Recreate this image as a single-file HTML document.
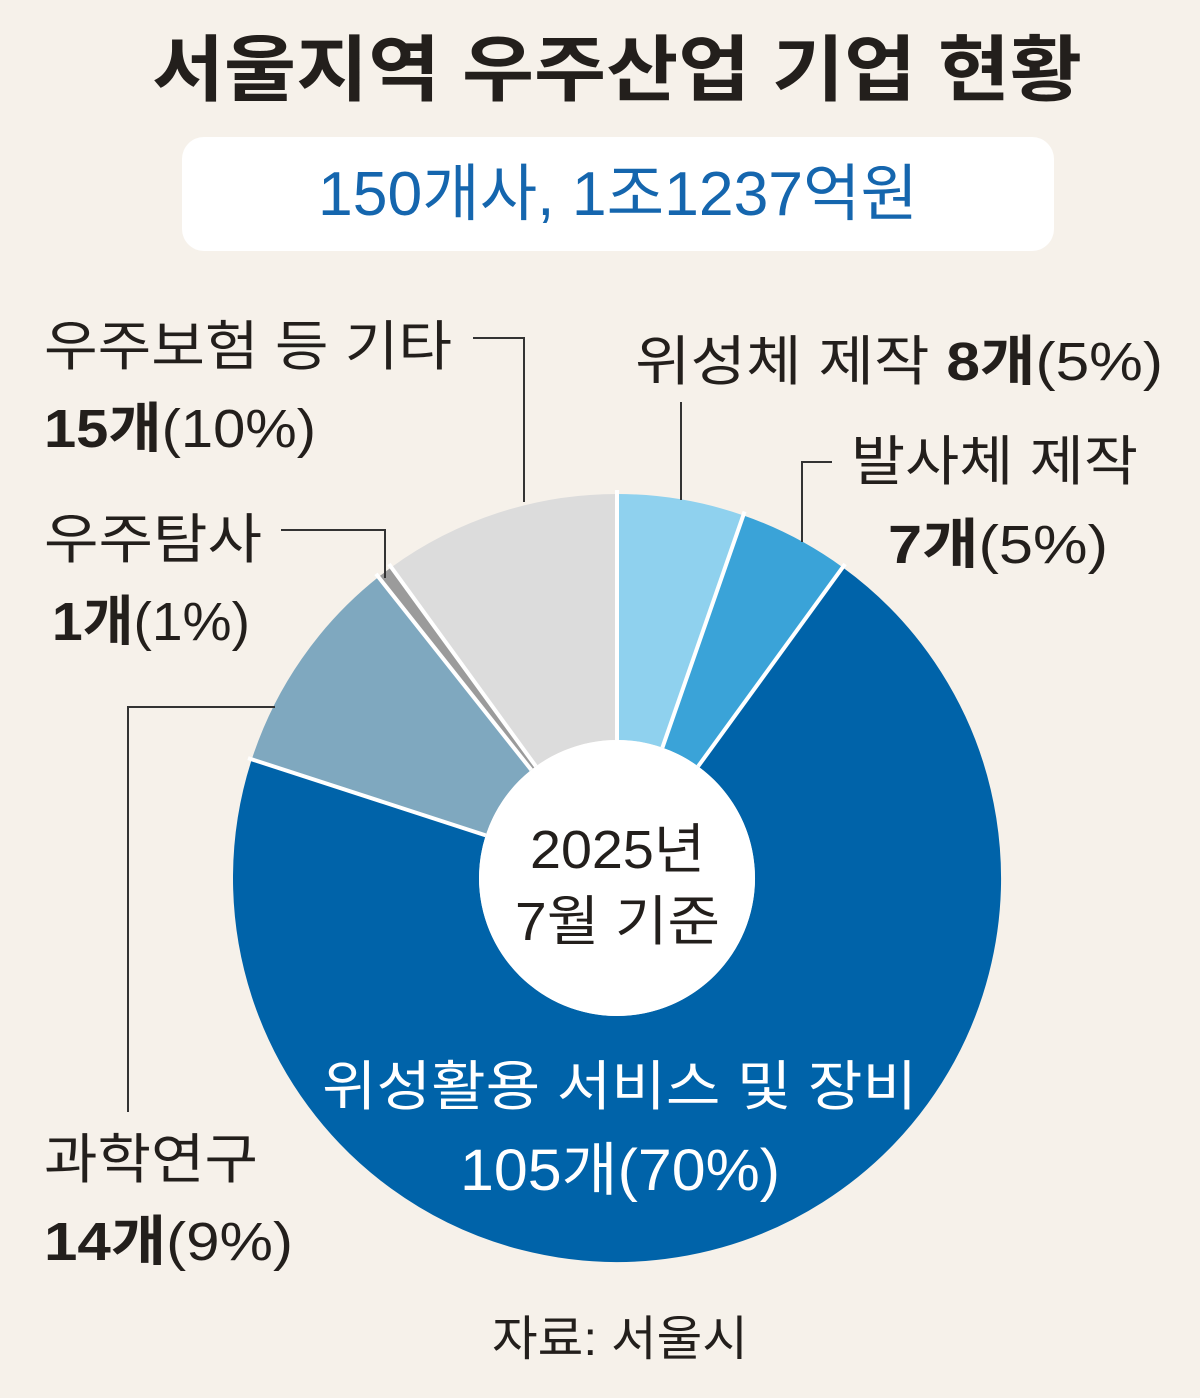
<!DOCTYPE html>
<html><head><meta charset="utf-8"><style>
body{margin:0;width:1200px;height:1393px;background:#f6f1ea;overflow:hidden}
svg text{font-family:"Liberation Sans","Noto Sans CJK KR",sans-serif;fill:#231f1c}
</style></head><body>
<svg width="1200" height="1393" viewBox="0 0 1200 1393">
<rect x="0" y="0" width="1200" height="1393" fill="#f6f1ea"/>
<text x="152" y="95" font-size="72" font-weight="bold" textLength="930" lengthAdjust="spacingAndGlyphs">서울지역 우주산업 기업 현황</text>
<rect x="182" y="137" width="872" height="114" rx="22" fill="#ffffff"/>
<text x="318" y="215" font-size="62" textLength="600" lengthAdjust="spacingAndGlyphs" style="fill:#1566ae">150개사, 1조1237억원</text>
<g fill="none" stroke-width="246" transform="rotate(-90 617 878)">
<circle cx="617" cy="878" r="261" stroke="#8fd1ee" stroke-dasharray="87.46 2000" transform="rotate(0 617 878)"/>
<circle cx="617" cy="878" r="261" stroke="#3aa3d8" stroke-dasharray="76.53 2000" transform="rotate(19.2 617 878)"/>
<circle cx="617" cy="878" r="261" stroke="#0063a9" stroke-dasharray="1147.9 2000" transform="rotate(36 617 878)"/>
<circle cx="617" cy="878" r="261" stroke="#7fa8bf" stroke-dasharray="153.06 2000" transform="rotate(288 617 878)"/>
<circle cx="617" cy="878" r="261" stroke="#9b9b9b" stroke-dasharray="10.93 2000" transform="rotate(321.6 617 878)"/>
<circle cx="617" cy="878" r="261" stroke="#dcdcdc" stroke-dasharray="164 2000" transform="rotate(324 617 878)"/>
</g>
<g stroke="#ffffff" stroke-width="4">
<line x1="617" y1="740" x2="617" y2="490" transform="rotate(0 617 878)"/>
<line x1="617" y1="740" x2="617" y2="490" transform="rotate(19.2 617 878)"/>
<line x1="617" y1="740" x2="617" y2="490" transform="rotate(36 617 878)"/>
<line x1="617" y1="740" x2="617" y2="490" transform="rotate(288 617 878)"/>
<line x1="617" y1="740" x2="617" y2="490" transform="rotate(321.6 617 878)"/>
<line x1="617" y1="740" x2="617" y2="490" transform="rotate(324 617 878)"/>
</g>
<circle cx="617" cy="878" r="138" fill="#ffffff"/>
<text x="530" y="868" font-size="54" textLength="175" lengthAdjust="spacingAndGlyphs">2025년</text>
<text x="515" y="940" font-size="54" textLength="205" lengthAdjust="spacingAndGlyphs">7월 기준</text>
<text x="322" y="1105" font-size="54" textLength="595" lengthAdjust="spacingAndGlyphs" style="fill:#fff">위성활용 서비스 및 장비</text>
<text x="460" y="1190" font-size="58" textLength="320" lengthAdjust="spacingAndGlyphs" style="fill:#fff">105개(70%)</text>
<g stroke="#333" stroke-width="2" fill="none">
<polyline points="473,338 524,338 524,502"/>
<polyline points="281,530 385,530 385,578"/>
<polyline points="275,707 128,707 128,1112"/>
<line x1="681" y1="402" x2="681" y2="500"/>
<polyline points="832,462 802,462 802,542"/>
</g>
<g font-size="54" lengthAdjust="spacingAndGlyphs">
<text x="44" y="365" textLength="408" lengthAdjust="spacingAndGlyphs">우주보험 등 기타</text>
<text x="44" y="447" textLength="272" lengthAdjust="spacingAndGlyphs"><tspan font-weight="bold">15개</tspan>(10%)</text>
<text x="44" y="558" textLength="218" lengthAdjust="spacingAndGlyphs">우주탐사</text>
<text x="52" y="640" textLength="198" lengthAdjust="spacingAndGlyphs"><tspan font-weight="bold">1개</tspan>(1%)</text>
<text x="44" y="1178" textLength="214" lengthAdjust="spacingAndGlyphs">과학연구</text>
<text x="44" y="1260" textLength="249" lengthAdjust="spacingAndGlyphs"><tspan font-weight="bold">14개</tspan>(9%)</text>
<text x="635" y="380" textLength="528" lengthAdjust="spacingAndGlyphs">위성체 제작 <tspan font-weight="bold">8개</tspan>(5%)</text>
<text x="851" y="480" textLength="287" lengthAdjust="spacingAndGlyphs">발사체 제작</text>
<text x="888" y="563" textLength="220" lengthAdjust="spacingAndGlyphs"><tspan font-weight="bold">7개</tspan>(5%)</text>
</g>
<text x="492" y="1355" font-size="48" textLength="256" lengthAdjust="spacingAndGlyphs">자료: 서울시</text>
</svg>
</body></html>
